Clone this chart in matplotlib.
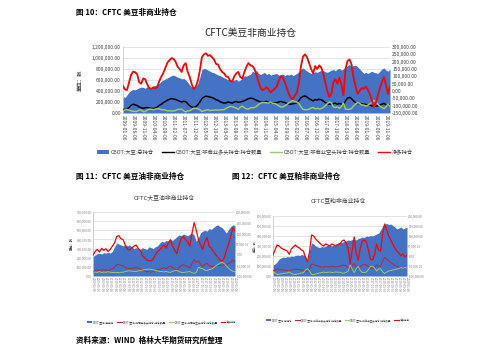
import numpy as np
import matplotlib
matplotlib.use('Agg')
import matplotlib.pyplot as plt
from matplotlib.ticker import FuncFormatter, MultipleLocator
from matplotlib.patches import Patch
from matplotlib.lines import Line2D

plt.rcParams['font.family'] = ['Noto Sans CJK SC', 'DejaVu Sans']

# ---------------- data (thousands of contracts) ----------------
# Chart 1: CBOT soybeans, monthly from 2009-01
soy_total_k = [300, 280, 330, 380, 410, 430, 420, 440, 460, 470,
               465, 450, 480, 460, 470, 490, 500, 520, 540, 580,
               600, 620, 640, 660, 680, 690, 670, 650, 640, 620,
               630, 600, 560, 510, 470, 450, 480, 540, 650, 790,
               810, 800, 780, 760, 740, 730, 710, 690, 680, 660,
               640, 620, 610, 600, 590, 600, 610, 580, 600, 640,
               680, 670, 690, 700, 760, 740, 780, 720, 700, 720,
               740, 700, 720, 690, 700, 710, 720, 690, 700, 710,
               680, 700, 690, 710, 680, 700, 720, 760, 800, 820,
               790, 760, 740, 720, 730, 750, 740, 760, 780, 770,
               750, 740, 760, 780, 790, 770, 800, 810, 780, 800,
               840, 860, 880, 850, 860, 870, 840, 800, 760, 720,
               740, 720, 740, 760, 740, 730, 720, 760, 800, 820,
               780, 760, 800]
soy_long_k = [67, 60, 75, 100, 140, 158, 150, 135, 110, 95,
              85, 95, 100, 90, 85, 80, 90, 110, 140, 160,
              190, 210, 235, 250, 262, 255, 245, 230, 215, 200,
              215, 205, 170, 130, 110, 100, 115, 150, 200, 260,
              290, 305, 300, 290, 280, 265, 240, 230, 205, 190,
              180, 185, 200, 190, 180, 200, 210, 195, 200, 210,
              225, 240, 260, 270, 265, 250, 230, 215, 200, 195,
              205, 210, 190, 185, 180, 190, 185, 200, 210, 200,
              190, 175, 165, 160, 170, 175, 190, 230, 280, 300,
              310, 290, 260, 240, 220, 245, 235, 250, 240, 220,
              190, 170, 160, 165, 170, 180, 160, 175, 160, 150,
              220, 270, 285, 260, 220, 190, 170, 175, 165, 160,
              155, 150, 145, 130, 120, 125, 130, 145, 160, 175,
              150, 140, 150]
soy_short_k = [45, 55, 65, 50, 40, 30, 30, 30, 55, 50,
               25, 25, 55, 70, 70, 60, 70, 80, 75, 60,
               60, 50, 40, 40, 37, 38, 45, 65, 65, 70,
               40, 20, 40, 40, 65, 88, 85, 80, 60, 30,
               40, 48, 60, 45, 50, 50, 55, 50, 55, 60,
               60, 85, 105, 120, 116, 100, 90, 65, 105, 125,
               95, 75, 70, 95, 95, 100, 120, 155, 180, 190,
               190, 185, 180, 195, 175, 175, 155, 130, 110, 110,
               130, 155, 185, 205, 225, 205, 200, 170, 110, 65,
               60, 60, 70, 90, 100, 75, 85, 75, 80, 100,
               130, 170, 200, 185, 110, 100, 110, 85, 120, 180,
               70, 65, 70, 80, 130, 160, 190, 175, 145, 145,
               125, 140, 165, 190, 230, 205, 160, 125, 100, 80,
               110, 160, 120]
soy_net_k = [34, 10, 7, 60, 110, 132, 128, 115, 60, 50,
             86, 80, 45, 20, 15, 25, 18, 30, 70, 100,
             125, 160, 195, 210, 225, 218, 200, 165, 150, 130,
             175, 190, 130, 95, 45, 12, 30, 70, 140, 230,
             250, 257, 240, 245, 230, 215, 185, 180, 150, 130,
             120, 100, 95, 70, 64, 100, 120, 130, 95, 85,
             130, 165, 190, 175, 170, 150, 110, 60, 20, 5,
             15, 25, 10, -10, 5, 15, 30, 70, 100, 90,
             60, 20, -20, -45, -55, -30, -10, 60, 170, 235,
             250, 230, 190, 150, 120, 170, 150, 175, 160, 120,
             60, 0, -40, -20, 60, 80, 50, 90, 40, -30,
             150, 205, 215, 180, 90, 30, -20, 0, 20, 15,
             30, 10, -20, -60, -110, -80, -30, 20, 60, 95,
             40, -20, 30]

# Chart 2: CBOT soybean oil, bi-monthly from 2009-01
oil_total_k = [211, 230, 245, 250, 240, 255, 250, 260, 250, 270,
               320, 360, 350, 340, 330, 345, 330, 340, 320, 300,
               310, 300, 290, 310, 300, 290, 320, 310, 300, 320,
               330, 360, 380, 370, 390, 380, 400, 390, 410, 430,
               450, 440, 460, 450, 440, 460, 470, 450, 380, 420,
               470, 490, 500, 490, 520, 510, 530, 550, 560, 540,
               530, 500, 470, 510, 540, 560, 550]
oil_long_k = [43, 57, 65, 60, 68, 64, 68, 61, 67, 78,
              95, 123, 126, 115, 112, 93, 80, 80, 82, 90,
              93, 85, 80, 60, 55, 47, 47, 42, 48, 60,
              70, 72, 83, 90, 80, 97, 110, 90, 78, 67,
              93, 115, 123, 112, 105, 88, 135, 180, 153, 165,
              130, 105, 125, 140, 110, 105, 105, 110, 115, 115,
              120, 120, 130, 135, 150, 175, 155]
oil_short_k = [45, 42, 40, 48, 38, 44, 40, 46, 42, 38,
               40, 38, 36, 40, 42, 48, 55, 58, 52, 50,
               48, 55, 60, 65, 70, 72, 75, 72, 68, 60,
               55, 50, 48, 45, 50, 42, 40, 50, 58, 62,
               48, 40, 38, 42, 45, 48, 35, 30, 38, 95,
               85, 80, 65, 60, 70, 75, 90, 110, 125, 140,
               150, 135, 110, 85, 65, 50, 45]
oil_net_k = [-2, 15, 25, 12, 30, 20, 28, 15, 25, 40,
             55, 85, 90, 75, 70, 45, 25, 22, 30, 40,
             45, 30, 20, -5, -15, -25, -28, -30, -20, 0,
             15, 22, 35, 45, 30, 55, 70, 40, 20, 5,
             45, 75, 85, 70, 60, 40, 100, 150, 115, 70,
             45, 25, 60, 80, 40, 30, 15, 0, -10, -25,
             -30, -15, 20, 50, 85, 125, 110]

# Chart 3: CBOT soybean meal, bi-monthly from 2009-01
meal_total_k = [110, 120, 140, 170, 180, 190, 185, 195, 190, 200,
                195, 205, 210, 205, 215, 210, 200, 160, 250, 330,
                320, 300, 290, 285, 295, 290, 300, 310, 305, 300,
                315, 320, 330, 340, 335, 345, 350, 360, 355, 365,
                370, 360, 375, 380, 390, 385, 400, 395, 405, 400,
                410, 420, 430, 460, 500, 520, 525, 515, 520, 505,
                490, 470, 480, 490, 470, 480, 490]
meal_long_k = [50, 60, 70, 68, 62, 60, 58, 56, 50, 60,
               65, 70, 66, 64, 60, 58, 50, 45, 70, 120,
               115, 105, 100, 95, 90, 88, 95, 92, 90, 95,
               92, 90, 95, 98, 105, 108, 100, 90, 70, 100,
               125, 85, 75, 95, 110, 115, 110, 95, 80, 78,
               85, 110, 100, 98, 150, 185, 170, 150, 135, 120,
               105, 95, 90, 85, 88, 80, 85]
meal_short_k = [45, 30, 15, 18, 22, 25, 28, 30, 42, 25,
                20, 15, 21, 24, 30, 33, 60, 73, 50, 15,
                15, 20, 25, 30, 35, 38, 35, 37, 40, 35,
                37, 40, 37, 38, 30, 28, 35, 50, 110, 70,
                30, 75, 95, 55, 35, 35, 40, 65, 95, 98,
                80, 50, 70, 73, 40, 25, 40, 50, 55, 60,
                65, 70, 75, 85, 78, 85, 80]
meal_net_k = [5, 30, 55, 50, 40, 35, 30, 25, 8, 35,
              45, 55, 45, 40, 30, 25, -10, -28, 20, 105,
              100, 85, 75, 65, 55, 50, 60, 55, 50, 60,
              55, 50, 58, 60, 75, 80, 65, 40, -40, 30,
              95, 10, -20, 40, 75, 80, 70, 30, -15, -20,
              5, 60, 30, 25, 110, 160, 130, 100, 80, 60,
              40, 25, 15, 0, 10, -5, 5]

START_YEAR = 2009
soy_months_per_point = 1
small_months_per_point = 2

legend1 = ['CBOT:大豆:总持仓', 'CBOT:大豆:非商业多头持仓:持仓数量',
           'CBOT:大豆:非商业空头持仓:持仓数量', '净多持仓']
legend2 = ['CBOT:豆油:总持仓', 'CBOT:豆油:非商业多头持仓:持仓数量',
           'CBOT:豆油:非商业空头持仓:持仓数量', '净多持仓']
legend3 = ['CBOT:豆粕:总持仓', 'CBOT:豆粕:非商业多头持仓:持仓数量',
           'CBOT:豆粕:非商业空头持仓:持仓数量', '净多持仓']

# ---------------- style ----------------
BLUE = '#4472C4'
RED = '#FF0000'
GREEN = '#9BCB6A'
MAROON = '#B3283C'
GRID = '#D9D9D9'
TXT = '#404040'

W, H = 499, 352
fig = plt.figure(figsize=(W / 100, H / 100), dpi=100)


def rect(l, t, r, b):
    return [l / W, 1 - b / H, (r - l) / W, (b - t) / H]


def fmt(v, p):
    return f"{v:,.2f}"


def date_label(idx, mpp):
    m = idx * mpp
    return f"{START_YEAR + m // 12}-{m % 12 + 1:02d}-06"


def panel(r, total, long_, short, net, lmax, lstep, rmin, rmax, rstep,
          mpp, tick_every, fs_y, fs_x, long_color, lw, tick_color, pad):
    ax = fig.add_axes(r)
    x = np.arange(len(total))
    ax.fill_between(x, 0, np.array(total) * 1000, color=BLUE, lw=0, zorder=2)
    ax.plot(x, np.array(long_) * 1000, color=long_color, lw=lw, zorder=3)
    ax.plot(x, np.array(short) * 1000, color=GREEN, lw=lw, zorder=3)
    ax.set_xlim(0, len(total) - 1)
    ax.set_ylim(0, lmax)
    ax.yaxis.set_major_locator(MultipleLocator(lstep))
    ax.yaxis.set_major_formatter(FuncFormatter(fmt))
    ax.grid(axis='y', color=GRID, lw=0.5, zorder=0)
    ax.set_axisbelow(True)
    ticks = list(range(0, len(total), tick_every))
    ax.set_xticks(ticks)
    ax.set_xticklabels([date_label(t, mpp) for t in ticks], rotation=270,
                       fontsize=fs_x, color=tick_color, ha='center', va='top')
    ax.tick_params(axis='both', length=0, pad=pad)
    ax.tick_params(axis='y', labelsize=fs_y, labelcolor=tick_color)
    ax2 = ax.twinx()
    ax2.plot(x, np.array(net) * 1000, color=RED, lw=lw + 0.2, zorder=4)
    ax2.set_ylim(rmin, rmax)
    ax2.yaxis.set_major_locator(MultipleLocator(rstep))
    ax2.yaxis.set_major_formatter(FuncFormatter(fmt))
    ax2.tick_params(axis='y', length=0, pad=pad, labelsize=fs_y,
                    labelcolor=tick_color)
    for a in (ax, ax2):
        for s in a.spines.values():
            s.set_visible(False)
    ax.spines['left'].set_visible(True)
    ax.spines['left'].set_color('#BFBFBF')
    ax.spines['left'].set_linewidth(0.5)
    return ax, ax2


# Chart 1
panel(rect(123, 47, 390, 113), soy_total_k, soy_long_k, soy_short_k, soy_net_k,
      1200000, 200000, -150000, 300000, 50000, soy_months_per_point, 5,
      3.6, 3.5, 'black', 1.1, TXT, 1.5)

# Chart 2
panel(rect(93, 212, 235, 276), oil_total_k, oil_long_k, oil_short_k, oil_net_k,
      700000, 100000, -100000, 200000, 50000, small_months_per_point, 2,
      2.2, 2.2, MAROON, 0.7, '#7F7F7F', 1.0)

# Chart 3
panel(rect(273, 216, 407, 276), meal_total_k, meal_long_k, meal_short_k, meal_net_k,
      600000, 100000, -100000, 200000, 50000, small_months_per_point, 2,
      2.2, 2.2, MAROON, 0.7, '#7F7F7F', 1.0)

# Headings
fig.text(76 / W, 1 - 13 / H, '图 10：CFTC 美豆非商业持仓', fontsize=5.5,
         fontweight='bold', va='center', ha='left', color='black')
fig.text(76 / W, 1 - 176 / H, '图 11：CFTC 美豆油非商业持仓', fontsize=5.5,
         fontweight='bold', va='center', ha='left', color='black')
fig.text(232 / W, 1 - 176 / H, '图 12：CFTC 美豆粕非商业持仓', fontsize=5.5,
         fontweight='bold', va='center', ha='left', color='black')
fig.text(76 / W, 1 - 340 / H, '资料来源：WIND  格林大华期货研究所整理', fontsize=5.5,
         fontweight='bold', va='center', ha='left', color='black')

# Chart titles
fig.text(250 / W, 1 - 33 / H, 'CFTC美豆非商业持仓', fontsize=7, ha='center',
         va='center', color='#262626')
fig.text(164 / W, 1 - 198 / H, 'CFTC大豆油非商业持仓', fontsize=4.2, ha='center',
         va='center', color='#404040')
fig.text(338 / W, 1 - 201 / H, 'CFTC豆粕非商业持仓', fontsize=4.2, ha='center',
         va='center', color='#404040')

# y-axis unit labels
fig.text(80 / W, 1 - 80 / H, '单位：张', fontsize=3.9, rotation=90, ha='center',
         va='center', color=TXT, fontweight='bold')
fig.text(72 / W, 1 - 243 / H, '单位：张', fontsize=2.3, rotation=90, ha='center',
         va='center', color=TXT, fontweight='bold')
fig.text(254.5 / W, 1 - 246 / H, '单位：张', fontsize=2.1, rotation=90, ha='center',
         va='center', color=TXT, fontweight='bold')


def legend(labels, long_color, x, y, fs, hl, cs, lw):
    handles = [Patch(facecolor=BLUE, edgecolor='none'),
               Line2D([], [], color=long_color, lw=lw),
               Line2D([], [], color=GREEN, lw=lw),
               Line2D([], [], color=RED, lw=lw)]
    fig.legend(handles, labels, loc='center', bbox_to_anchor=(x / W, 1 - y / H),
               ncol=4, frameon=False, fontsize=fs, handlelength=hl,
               handleheight=0.6, handletextpad=0.3, columnspacing=cs,
               labelcolor=TXT, borderpad=0)


legend(legend1, 'black', 255, 152, 3.8, 2.2, 1.6, 1.0)
legend(legend2, MAROON, 162, 322, 1.9, 1.8, 1.2, 0.8)
legend(legend3, MAROON, 338, 320, 1.8, 1.8, 1.2, 0.8)

fig.savefig('out.png', dpi=100)
